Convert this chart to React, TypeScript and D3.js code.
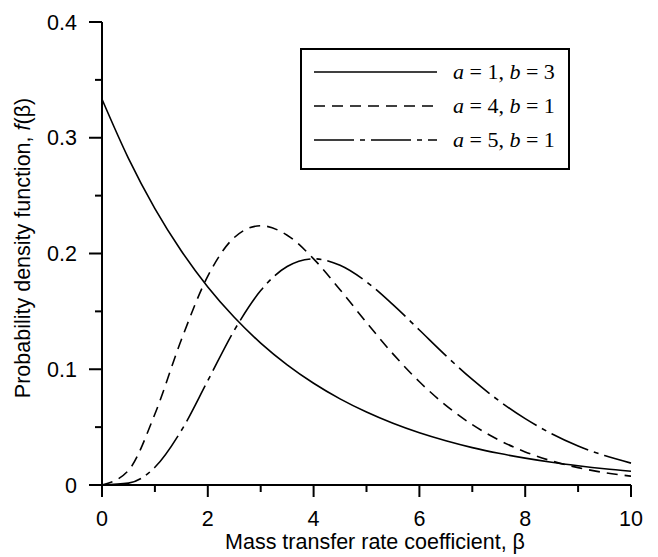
import React from "react";
import * as d3 from "d3";

const betaValues = [0, 0.5, 1, 1.5, 2, 2.5, 3, 3.5, 4, 4.5, 5, 5.5, 6, 6.5, 7, 7.5, 8, 8.5, 9, 9.5, 10];
const seriesA1B3 = [0.3333, 0.2822, 0.2388, 0.2022, 0.1711, 0.1449, 0.1226, 0.1038, 0.0879, 0.0744, 0.0630, 0.0533, 0.0451, 0.0382, 0.0323, 0.0274, 0.0232, 0.0196, 0.0166, 0.0140, 0.0119];
const seriesA4B1 = [0, 0.0126, 0.0613, 0.1255, 0.1804, 0.2138, 0.2240, 0.2158, 0.1954, 0.1687, 0.1404, 0.1133, 0.0892, 0.0688, 0.0521, 0.0389, 0.0286, 0.0208, 0.0150, 0.0107, 0.0076];
const seriesA5B1 = [0, 0.0016, 0.0153, 0.0471, 0.0902, 0.1336, 0.1680, 0.1888, 0.1954, 0.1898, 0.1755, 0.1558, 0.1339, 0.1118, 0.0912, 0.0729, 0.0573, 0.0443, 0.0337, 0.0254, 0.0189];
const seriesLabels = ["a = 1, b = 3", "a = 4, b = 1", "a = 5, b = 1"];
const xTicks = [0, 2, 4, 6, 8, 10];
const xMinorTicks = [1, 3, 5, 7, 9];
const yTicks = [0, 0.1, 0.2, 0.3, 0.4];
const yMinorTicks = [0.05, 0.15, 0.25, 0.35];

const dashes = ["none", "11 7", "40 6 5 6"];

export default function App() {
  const W = 658, H = 557;
  const left = 102, right = 631, top = 22, bottom = 485;
  const x = d3.scaleLinear().domain([0, 10]).range([left, right]);
  const y = d3.scaleLinear().domain([0, 0.4]).range([bottom, top]);
  const series = [seriesA1B3, seriesA4B1, seriesA5B1];
  const line = d3
    .line<number>()
    .x((_, i) => x(betaValues[i]))
    .y((d) => y(d))
    .curve(d3.curveMonotoneX);
  const font = "'Liberation Sans', Arial, sans-serif";
  const serif = "'Liberation Serif', 'Times New Roman', serif";
  const legendRowsY = [72, 106, 140];
  const parts = [
    ["1", "3"],
    ["4", "1"],
    ["5", "1"],
  ];
  const fs = 21.5;
  return (
    <svg width={W} height={H} style={{ position: "absolute", left: 0, top: 0 }}>
      <rect width={W} height={H} fill="#fff" />
      {series.map((s, i) => (
        <path key={i} d={line(s) || ""} fill="none" stroke="#000" strokeWidth={1.6} strokeDasharray={dashes[i]} />
      ))}
      {/* axes */}
      <line x1={left} x2={left} y1={top} y2={bottom} stroke="#000" strokeWidth={2} />
      <line x1={left} x2={right} y1={bottom} y2={bottom} stroke="#000" strokeWidth={2} />
      {yTicks.map((t) => (
        <g key={"y" + t}>
          <line x1={left - 13} x2={left} y1={y(t)} y2={y(t)} stroke="#000" strokeWidth={2} />
          <text x={77} y={y(t)} dy="0.36em" textAnchor="end" fontFamily={font} fontSize={fs}>
            {t === 0 ? "0" : t.toFixed(1)}
          </text>
        </g>
      ))}
      {yMinorTicks.map((t) => (
        <line key={"ym" + t} x1={left - 7} x2={left} y1={y(t)} y2={y(t)} stroke="#000" strokeWidth={2} />
      ))}
      {xTicks.map((t) => (
        <g key={"x" + t}>
          <line x1={x(t)} x2={x(t)} y1={bottom} y2={bottom + 12} stroke="#000" strokeWidth={2} />
          <text x={x(t)} y={526} textAnchor="middle" fontFamily={font} fontSize={fs}>
            {t}
          </text>
        </g>
      ))}
      {xMinorTicks.map((t) => (
        <line key={"xm" + t} x1={x(t)} x2={x(t)} y1={bottom} y2={bottom + 7} stroke="#000" strokeWidth={2} />
      ))}
      <text x={375} y={549} textAnchor="middle" fontFamily={font} fontSize={fs}>
        Mass transfer rate coefficient, β
      </text>
      <text
        transform={`translate(30,248) rotate(-90)`}
        textAnchor="middle"
        fontFamily={font}
        fontSize={fs}
      >
        Probability density function, <tspan fontStyle="italic">f</tspan>(β)
      </text>
      {/* legend */}
      <rect x={301} y={49} width={268} height={120} fill="#fff" stroke="#000" strokeWidth={2} />
      {seriesLabels.map((lab, i) => (
        <g key={lab}>
          <line x1={314} x2={437} y1={legendRowsY[i]} y2={legendRowsY[i]} stroke="#000" strokeWidth={1.6} strokeDasharray={dashes[i]} />
          <text x={453} y={legendRowsY[i]} dy="0.34em" fontFamily={serif} fontSize={22}>
            <tspan fontStyle="italic">a</tspan> = {parts[i][0]}, <tspan fontStyle="italic">b</tspan> = {parts[i][1]}
          </text>
        </g>
      ))}
    </svg>
  );
}
